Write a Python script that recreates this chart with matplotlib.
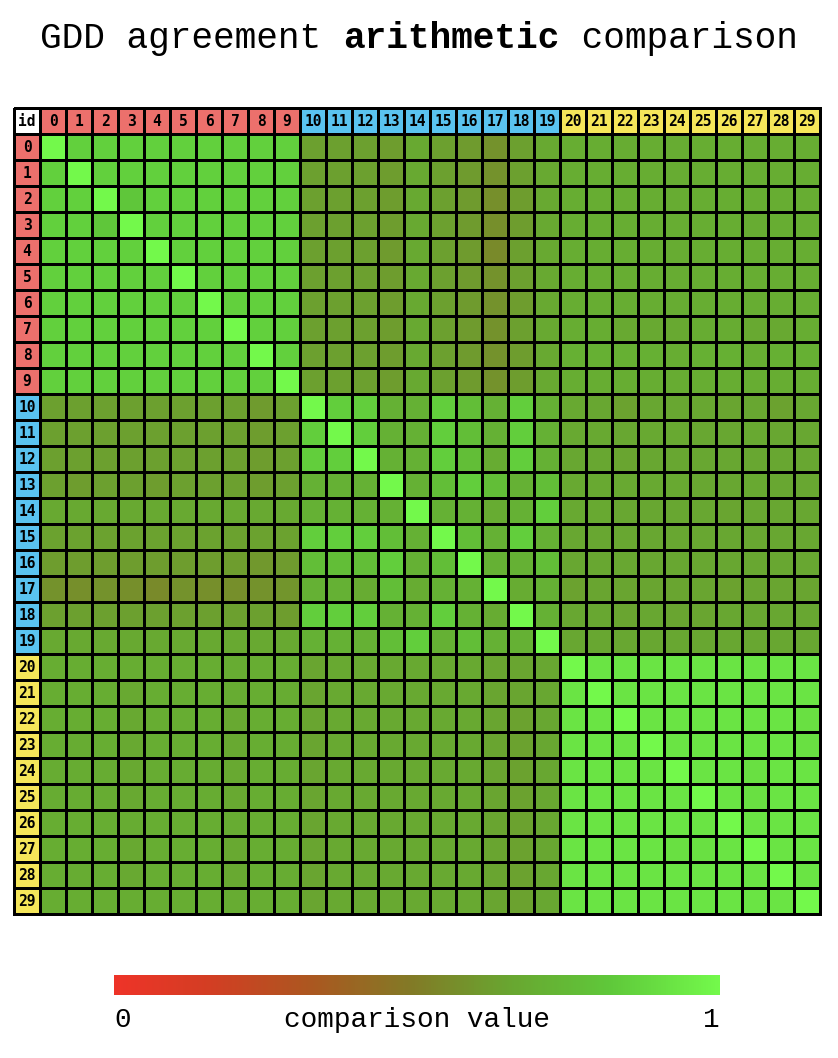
import numpy as np
import matplotlib
matplotlib.use("Agg")
import matplotlib.pyplot as plt
from matplotlib.colors import LinearSegmentedColormap, ListedColormap

# ids and their groups (0 = red, 1 = blue, 2 = yellow)
ids = list(range(30))
groups = [0] * 10 + [1] * 10 + [2] * 10
group_colors = ["#ffffff", "#ec706c", "#5ac3f0", "#f5e65a"]

# GDD agreement values, rows grouped by id blocks
agreement = [
    # red rows
    [1.00, 0.85, 0.85, 0.85, 0.85, 0.85, 0.85, 0.85, 0.85, 0.85, 0.63, 0.63, 0.63, 0.62, 0.67, 0.63, 0.61, 0.58, 0.63, 0.67, 0.69, 0.69, 0.68, 0.69, 0.68, 0.69, 0.69, 0.69, 0.69, 0.69],
    [0.85, 1.00, 0.85, 0.85, 0.85, 0.85, 0.85, 0.85, 0.85, 0.85, 0.63, 0.63, 0.63, 0.62, 0.67, 0.63, 0.61, 0.58, 0.63, 0.67, 0.69, 0.69, 0.69, 0.69, 0.68, 0.69, 0.69, 0.69, 0.69, 0.69],
    [0.85, 0.85, 1.00, 0.81, 0.85, 0.85, 0.85, 0.85, 0.85, 0.85, 0.63, 0.63, 0.63, 0.62, 0.67, 0.63, 0.61, 0.57, 0.62, 0.67, 0.69, 0.69, 0.69, 0.69, 0.68, 0.69, 0.69, 0.69, 0.69, 0.69],
    [0.85, 0.85, 0.81, 1.00, 0.85, 0.85, 0.85, 0.85, 0.85, 0.85, 0.63, 0.63, 0.63, 0.62, 0.67, 0.63, 0.61, 0.57, 0.62, 0.67, 0.69, 0.69, 0.69, 0.69, 0.69, 0.69, 0.69, 0.68, 0.69, 0.69],
    [0.85, 0.85, 0.85, 0.85, 1.00, 0.85, 0.85, 0.85, 0.85, 0.85, 0.63, 0.63, 0.63, 0.61, 0.67, 0.63, 0.61, 0.55, 0.63, 0.67, 0.69, 0.69, 0.69, 0.69, 0.68, 0.69, 0.69, 0.69, 0.69, 0.69],
    [0.85, 0.85, 0.85, 0.85, 0.85, 1.00, 0.85, 0.85, 0.85, 0.85, 0.63, 0.63, 0.63, 0.62, 0.67, 0.63, 0.61, 0.58, 0.63, 0.67, 0.69, 0.69, 0.69, 0.69, 0.68, 0.69, 0.69, 0.69, 0.69, 0.69],
    [0.85, 0.85, 0.85, 0.85, 0.85, 0.85, 1.00, 0.85, 0.85, 0.85, 0.63, 0.63, 0.63, 0.62, 0.67, 0.63, 0.61, 0.58, 0.62, 0.67, 0.69, 0.69, 0.69, 0.69, 0.68, 0.69, 0.69, 0.69, 0.69, 0.69],
    [0.85, 0.85, 0.85, 0.85, 0.85, 0.85, 0.85, 1.00, 0.85, 0.85, 0.63, 0.63, 0.63, 0.62, 0.67, 0.63, 0.61, 0.58, 0.63, 0.67, 0.69, 0.69, 0.67, 0.67, 0.67, 0.68, 0.68, 0.67, 0.67, 0.69],
    [0.85, 0.85, 0.85, 0.85, 0.85, 0.85, 0.85, 0.85, 1.00, 0.85, 0.63, 0.63, 0.63, 0.62, 0.67, 0.63, 0.61, 0.58, 0.62, 0.67, 0.70, 0.70, 0.70, 0.70, 0.69, 0.70, 0.70, 0.69, 0.70, 0.70],
    [0.85, 0.85, 0.85, 0.85, 0.85, 0.85, 0.85, 0.85, 0.85, 1.00, 0.63, 0.63, 0.63, 0.62, 0.67, 0.63, 0.61, 0.58, 0.62, 0.67, 0.69, 0.69, 0.69, 0.69, 0.68, 0.69, 0.69, 0.69, 0.69, 0.69],
    # blue rows
    [0.63, 0.63, 0.63, 0.63, 0.63, 0.63, 0.63, 0.63, 0.61, 0.63, 1.00, 0.84, 0.84, 0.71, 0.71, 0.84, 0.77, 0.71, 0.84, 0.71, 0.67, 0.66, 0.64, 0.66, 0.66, 0.66, 0.65, 0.66, 0.64, 0.66],
    [0.63, 0.63, 0.63, 0.63, 0.63, 0.63, 0.63, 0.63, 0.62, 0.63, 0.84, 1.00, 0.84, 0.71, 0.71, 0.84, 0.77, 0.71, 0.84, 0.71, 0.67, 0.67, 0.66, 0.67, 0.67, 0.66, 0.66, 0.67, 0.66, 0.66],
    [0.63, 0.63, 0.63, 0.63, 0.63, 0.63, 0.63, 0.63, 0.62, 0.63, 0.84, 0.84, 1.00, 0.71, 0.71, 0.84, 0.77, 0.68, 0.84, 0.71, 0.66, 0.66, 0.65, 0.66, 0.66, 0.66, 0.66, 0.66, 0.66, 0.66],
    [0.63, 0.62, 0.63, 0.63, 0.62, 0.63, 0.63, 0.63, 0.62, 0.63, 0.71, 0.71, 0.71, 1.00, 0.71, 0.77, 0.84, 0.77, 0.71, 0.77, 0.67, 0.67, 0.67, 0.67, 0.67, 0.66, 0.66, 0.67, 0.66, 0.66],
    [0.67, 0.67, 0.67, 0.67, 0.67, 0.67, 0.67, 0.67, 0.67, 0.67, 0.71, 0.71, 0.71, 0.71, 1.00, 0.71, 0.71, 0.68, 0.71, 0.84, 0.67, 0.67, 0.66, 0.66, 0.66, 0.66, 0.65, 0.66, 0.66, 0.66],
    [0.64, 0.64, 0.64, 0.64, 0.64, 0.64, 0.64, 0.64, 0.64, 0.64, 0.84, 0.84, 0.84, 0.77, 0.71, 1.00, 0.77, 0.71, 0.84, 0.71, 0.66, 0.66, 0.66, 0.66, 0.66, 0.66, 0.66, 0.66, 0.66, 0.66],
    [0.62, 0.62, 0.62, 0.62, 0.62, 0.62, 0.62, 0.62, 0.60, 0.61, 0.77, 0.77, 0.77, 0.84, 0.71, 0.77, 1.00, 0.71, 0.71, 0.77, 0.66, 0.66, 0.66, 0.66, 0.66, 0.66, 0.66, 0.66, 0.66, 0.66],
    [0.58, 0.57, 0.58, 0.57, 0.55, 0.58, 0.57, 0.57, 0.58, 0.59, 0.71, 0.71, 0.68, 0.77, 0.68, 0.71, 0.71, 1.00, 0.68, 0.71, 0.64, 0.65, 0.65, 0.65, 0.65, 0.65, 0.64, 0.65, 0.65, 0.65],
    [0.63, 0.63, 0.63, 0.63, 0.63, 0.63, 0.63, 0.63, 0.63, 0.62, 0.84, 0.84, 0.84, 0.71, 0.71, 0.84, 0.71, 0.68, 1.00, 0.71, 0.66, 0.66, 0.65, 0.66, 0.65, 0.65, 0.66, 0.66, 0.66, 0.66],
    [0.67, 0.67, 0.67, 0.67, 0.67, 0.67, 0.67, 0.67, 0.67, 0.67, 0.71, 0.71, 0.71, 0.77, 0.84, 0.71, 0.77, 0.71, 0.71, 1.00, 0.66, 0.66, 0.66, 0.66, 0.66, 0.66, 0.66, 0.66, 0.66, 0.66],
    # yellow rows
    [0.69, 0.69, 0.69, 0.69, 0.69, 0.69, 0.69, 0.68, 0.69, 0.69, 0.65, 0.67, 0.67, 0.67, 0.67, 0.67, 0.67, 0.65, 0.65, 0.66, 1.00, 0.92, 0.92, 0.92, 0.92, 0.92, 0.92, 0.92, 0.92, 0.92],
    [0.69, 0.69, 0.69, 0.67, 0.69, 0.69, 0.69, 0.68, 0.69, 0.68, 0.65, 0.67, 0.67, 0.67, 0.67, 0.67, 0.67, 0.65, 0.65, 0.66, 0.92, 1.00, 0.92, 0.92, 0.92, 0.92, 0.92, 0.92, 0.92, 0.92],
    [0.69, 0.69, 0.69, 0.67, 0.69, 0.69, 0.69, 0.67, 0.69, 0.69, 0.65, 0.67, 0.67, 0.67, 0.67, 0.67, 0.67, 0.65, 0.64, 0.66, 0.92, 0.92, 1.00, 0.92, 0.92, 0.92, 0.92, 0.92, 0.92, 0.91],
    [0.69, 0.68, 0.69, 0.67, 0.69, 0.69, 0.69, 0.67, 0.69, 0.68, 0.65, 0.67, 0.67, 0.67, 0.67, 0.67, 0.67, 0.65, 0.64, 0.66, 0.92, 0.92, 0.92, 1.00, 0.92, 0.92, 0.92, 0.92, 0.92, 0.91],
    [0.68, 0.68, 0.68, 0.67, 0.68, 0.68, 0.68, 0.67, 0.69, 0.68, 0.65, 0.67, 0.67, 0.67, 0.67, 0.67, 0.67, 0.65, 0.64, 0.66, 0.92, 0.92, 0.92, 0.92, 1.00, 0.92, 0.92, 0.91, 0.92, 0.92],
    [0.68, 0.68, 0.68, 0.67, 0.68, 0.68, 0.68, 0.67, 0.69, 0.68, 0.65, 0.67, 0.67, 0.67, 0.67, 0.67, 0.67, 0.65, 0.64, 0.66, 0.92, 0.92, 0.92, 0.92, 0.92, 1.00, 0.92, 0.91, 0.92, 0.92],
    [0.69, 0.69, 0.69, 0.68, 0.69, 0.69, 0.69, 0.68, 0.69, 0.69, 0.65, 0.67, 0.67, 0.67, 0.67, 0.67, 0.67, 0.65, 0.64, 0.66, 0.92, 0.92, 0.92, 0.92, 0.92, 0.92, 1.00, 0.92, 0.92, 0.92],
    [0.69, 0.69, 0.69, 0.67, 0.69, 0.69, 0.69, 0.67, 0.69, 0.68, 0.65, 0.67, 0.67, 0.67, 0.67, 0.67, 0.67, 0.65, 0.64, 0.66, 0.92, 0.92, 0.92, 0.92, 0.91, 0.91, 0.92, 1.00, 0.92, 0.92],
    [0.69, 0.68, 0.69, 0.67, 0.69, 0.69, 0.69, 0.67, 0.69, 0.68, 0.65, 0.67, 0.67, 0.67, 0.67, 0.67, 0.67, 0.65, 0.64, 0.66, 0.92, 0.92, 0.92, 0.92, 0.92, 0.92, 0.92, 0.92, 1.00, 0.92],
    [0.69, 0.69, 0.69, 0.69, 0.69, 0.69, 0.69, 0.68, 0.69, 0.69, 0.65, 0.67, 0.67, 0.67, 0.67, 0.67, 0.67, 0.65, 0.64, 0.66, 0.92, 0.92, 0.92, 0.92, 0.92, 0.92, 0.92, 0.92, 0.92, 1.00],
]

# colour scale
cmap_stops = [
    (0.00, "#ee3328"),
    (0.16, "#d23e23"),
    (0.33, "#aa5820"),
    (0.49, "#827a26"),
    (0.65, "#69a530"),
    (0.82, "#5fc83a"),
    (1.00, "#73f94b"),
]
cmap = LinearSegmentedColormap.from_list("agree", cmap_stops)

W, H = 838, 1058
fig = plt.figure(figsize=(W / 100, H / 100), dpi=100)

n = len(ids)
cell = 26
left, top = 14, 108
size = cell * (n + 1)
ax = fig.add_axes([left / W, 1 - (top + size) / H, size / W, size / H])
ax.set_xlim(0, n + 1)
ax.set_ylim(n + 1, 0)
ax.axis("off")

lw = 1.8
edges = np.arange(n + 2)

# header row / column coloured by group
header_row = np.array([[0] + [g + 1 for g in groups]])
hcmap = ListedColormap(group_colors)
m1 = ax.pcolormesh(edges, [0, 1], header_row, cmap=hcmap, vmin=-0.5, vmax=3.5,
                   edgecolors="black", linewidth=lw)
m2 = ax.pcolormesh([0, 1], edges[1:], header_row[:, 1:].T, cmap=hcmap, vmin=-0.5,
                   vmax=3.5, edgecolors="black", linewidth=lw)

mesh = ax.pcolormesh(edges[1:], edges[1:], np.array(agreement), cmap=cmap, vmin=0, vmax=1,
                     edgecolors="black", linewidth=lw)
for m in (m1, m2, mesh):
    m.set_clip_on(False)

lab_font = dict(family="DejaVu Sans Mono", weight="bold", fontsize=10.5, ha="center", va="center")
ax.text(0.5, 0.53, "id", **lab_font)
for i in ids:
    ax.text(i + 1.5, 0.53, str(i), **lab_font)
    ax.text(0.5, i + 1.53, str(i), **lab_font)

# title, mixed weight in a monospace font
tsize = 26
char_px = 0.6 * tsize * 100 / 72
parts = [("GDD agreement ", "normal"), ("arithmetic", "bold"), (" comparison", "normal")]
total = sum(len(p) for p, _ in parts) * char_px
x = (W - total) / 2
for txt, wt in parts:
    fig.text(x / W, 1 - 38 / H, txt, family="Liberation Mono", weight=wt,
             fontsize=tsize, ha="left", va="center")
    x += len(txt) * char_px

# colour bar
cax = fig.add_axes([114 / W, 1 - 995 / H, 606 / W, 20 / H])
cb = fig.colorbar(mesh, cax=cax, orientation="horizontal")
cb.outline.set_visible(False)
cb.set_ticks([])
fig.text(114 / W, 1 - 1020 / H, "0", family="Liberation Mono", fontsize=20, ha="left", va="center")
fig.text(720 / W, 1 - 1020 / H, "1", family="Liberation Mono", fontsize=20, ha="right", va="center")
fig.text(417 / W, 1 - 1020 / H, "comparison value", family="Liberation Mono", fontsize=20,
         ha="center", va="center")

fig.savefig("out.png", dpi=100)
